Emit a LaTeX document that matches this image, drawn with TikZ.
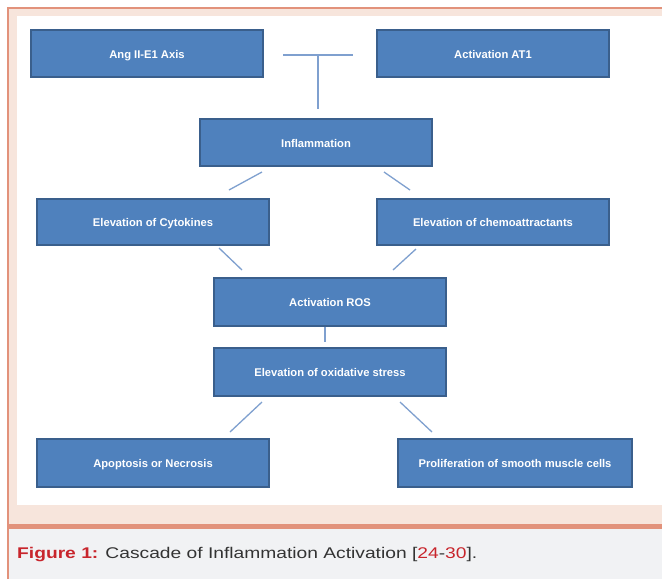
\documentclass[tikz,border=0pt]{standalone}
\usepackage{fontspec}
\setmainfont{Liberation Sans}
\definecolor{boxfill}{HTML}{4F81BD}
\definecolor{boxedge}{HTML}{3A5F8C}
\definecolor{linkcol}{HTML}{7FA0CF}
\definecolor{bandpink}{HTML}{F7E5DC}
\definecolor{frameorange}{HTML}{E2927B}
\definecolor{capgray}{HTML}{F1F2F4}
\definecolor{capred}{HTML}{C8252C}
\definecolor{captext}{HTML}{333333}
\begin{document}
\begin{tikzpicture}[x=1pt,y=-1pt,
  flowbox/.style={draw=boxedge,line width=2pt,fill=boxfill,text=white,
    font=\fontsize{11.2}{13}\selectfont\bfseries,inner sep=0pt,anchor=north west,
    text height=11.6pt,text depth=2.4pt},
  link/.style={draw=linkcol,line width=1.3pt}]
\useasboundingbox (0,0) rectangle (662,579);
% frame
\fill[white] (0,0) rectangle (662,579);
\fill[bandpink] (8,8) rectangle (662,525);
\fill[white] (17,16) rectangle (662,505);
\fill[capgray] (8,528) rectangle (662,579);
\fill[frameorange] (8,524) rectangle (662,528.5);
\draw[frameorange,line width=1.5pt] (8,579) -- (8,8) -- (662,8);
% boxes
\node[flowbox,minimum width=232pt,minimum height=47pt] (ang) at (30,29) {Ang II-E1 Axis};
\node[flowbox,minimum width=232pt,minimum height=47pt] (at1) at (376,29) {Activation AT1};
\node[flowbox,minimum width=232pt,minimum height=47pt] (inf) at (199,118) {Inflammation};
\node[flowbox,minimum width=232pt,minimum height=46pt] (cyt) at (36,198) {Elevation of Cytokines};
\node[flowbox,minimum width=232pt,minimum height=46pt] (che) at (376,198) {Elevation of chemoattractants};
\node[flowbox,minimum width=232pt,minimum height=48pt] (ros) at (213,277) {Activation ROS};
\node[flowbox,minimum width=232pt,minimum height=48pt] (oxi) at (213,347) {Elevation of oxidative stress};
\node[flowbox,minimum width=232pt,minimum height=48pt] (apo) at (36,438) {Apoptosis or Necrosis};
\node[flowbox,minimum width=234pt,minimum height=48pt] (pro) at (397,438) {Proliferation of smooth muscle cells};
% connector end points
\coordinate (tl) at (283,55);
\coordinate (tr) at (353,55);
\coordinate (tm) at (318,55);
\coordinate (tb) at (318,109);
\coordinate (a1) at (229,190); \coordinate (a2) at (262,172);
\coordinate (b1) at (384,172); \coordinate (b2) at (410,190);
\coordinate (c1) at (219,248); \coordinate (c2) at (242,270);
\coordinate (d1) at (416,249); \coordinate (d2) at (393,270);
\coordinate (e1) at (325,327); \coordinate (e2) at (325,342);
\coordinate (f1) at (262,402); \coordinate (f2) at (230,432);
\coordinate (g1) at (400,402); \coordinate (g2) at (432,432);
\draw[link] (tl) -- (tr);
\draw[link] (tm) -- (tb);
\draw[link] (a1) -- (a2);
\draw[link] (b1) -- (b2);
\draw[link] (c1) -- (c2);
\draw[link] (d1) -- (d2);
\draw[link] (e1) -- (e2);
\draw[link] (f1) -- (f2);
\draw[link] (g1) -- (g2);
% caption
\node[anchor=base west,inner sep=0pt,text=captext,font=\fontsize{15.5}{18}\selectfont] (cap) at (17,558)
  {\scalebox{1.24}[1]{\textcolor{capred}{\bfseries Figure 1:} Cascade of Inflammation Activation [\textcolor{capred}{24}-\textcolor{capred}{30}].}};
\end{tikzpicture}
\end{document}
